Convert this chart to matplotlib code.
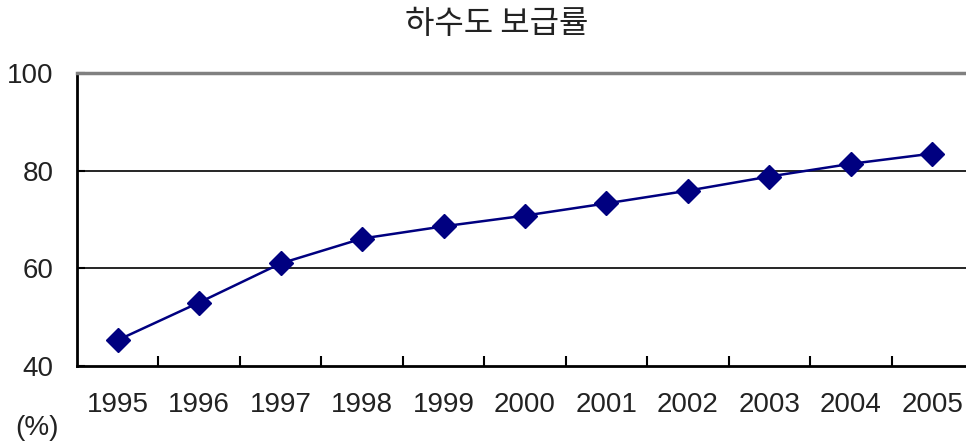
import matplotlib
matplotlib.use("Agg")
import matplotlib.pyplot as plt

plt.rcParams['font.family'] = ['Liberation Sans', 'Noto Sans CJK KR', 'DejaVu Sans']

anos = ['1995', '1996', '1997', '1998', '1999', '2000', '2001', '2002', '2003', '2004', '2005']
taxa = [45.3, 53.0, 61.0, 66.1, 68.6, 70.8, 73.3, 75.9, 78.8, 81.4, 83.5]
y_ticks = [40, 60, 80, 100]

W, H = 966, 441
fig = plt.figure(figsize=(W / 100, H / 100), dpi=100)
ax = fig.add_axes([77 / W, 1 - 366 / H, (W - 77) / W, (366 - 73) / H])

x = list(range(len(anos)))
ax.plot(x, taxa, color='#000080', linewidth=1.8, marker='D', markersize=12,
        markerfacecolor='#000080', markeredgecolor='#000080', zorder=3)

ax.set_ylim(40, 100)
ax.set_xlim(-0.5, 10.5 - 7 / 81.5)
ax.set_yticks(y_ticks)
ax.set_yticklabels([str(v) for v in y_ticks], fontsize=20, color='#222222')
for v in [60, 80]:
    ax.axhline(v, color='black', linewidth=1.2, zorder=1)

ax.set_xticks(x)
ax.set_xticklabels(anos, fontsize=20, color='#222222')
ax.set_xticks([i + 0.5 for i in x[:-1]], minor=True)
ax.tick_params(axis='x', which='major', length=0, pad=19)
ax.tick_params(axis='x', which='minor', direction='in', length=7, width=1.5)
ax.tick_params(axis='y', direction='in', length=6, width=1.5, pad=17)

ax.spines['right'].set_visible(False)
ax.spines['top'].set_color('#808080')
ax.spines['top'].set_linewidth(2.5)
ax.spines['left'].set_linewidth(2)
ax.spines['bottom'].set_linewidth(2)

fig.text(497 / W, 1 - 24 / H, '하수도 보급률', ha='center', va='center', fontsize=23,
         color='#222222', family=['Noto Sans CJK KR', 'DejaVu Sans'])
fig.text(37 / W, 1 - 428 / H, '(%)', ha='center', va='center', fontsize=20, color='#222222')

plt.savefig('out.png', dpi=100)
